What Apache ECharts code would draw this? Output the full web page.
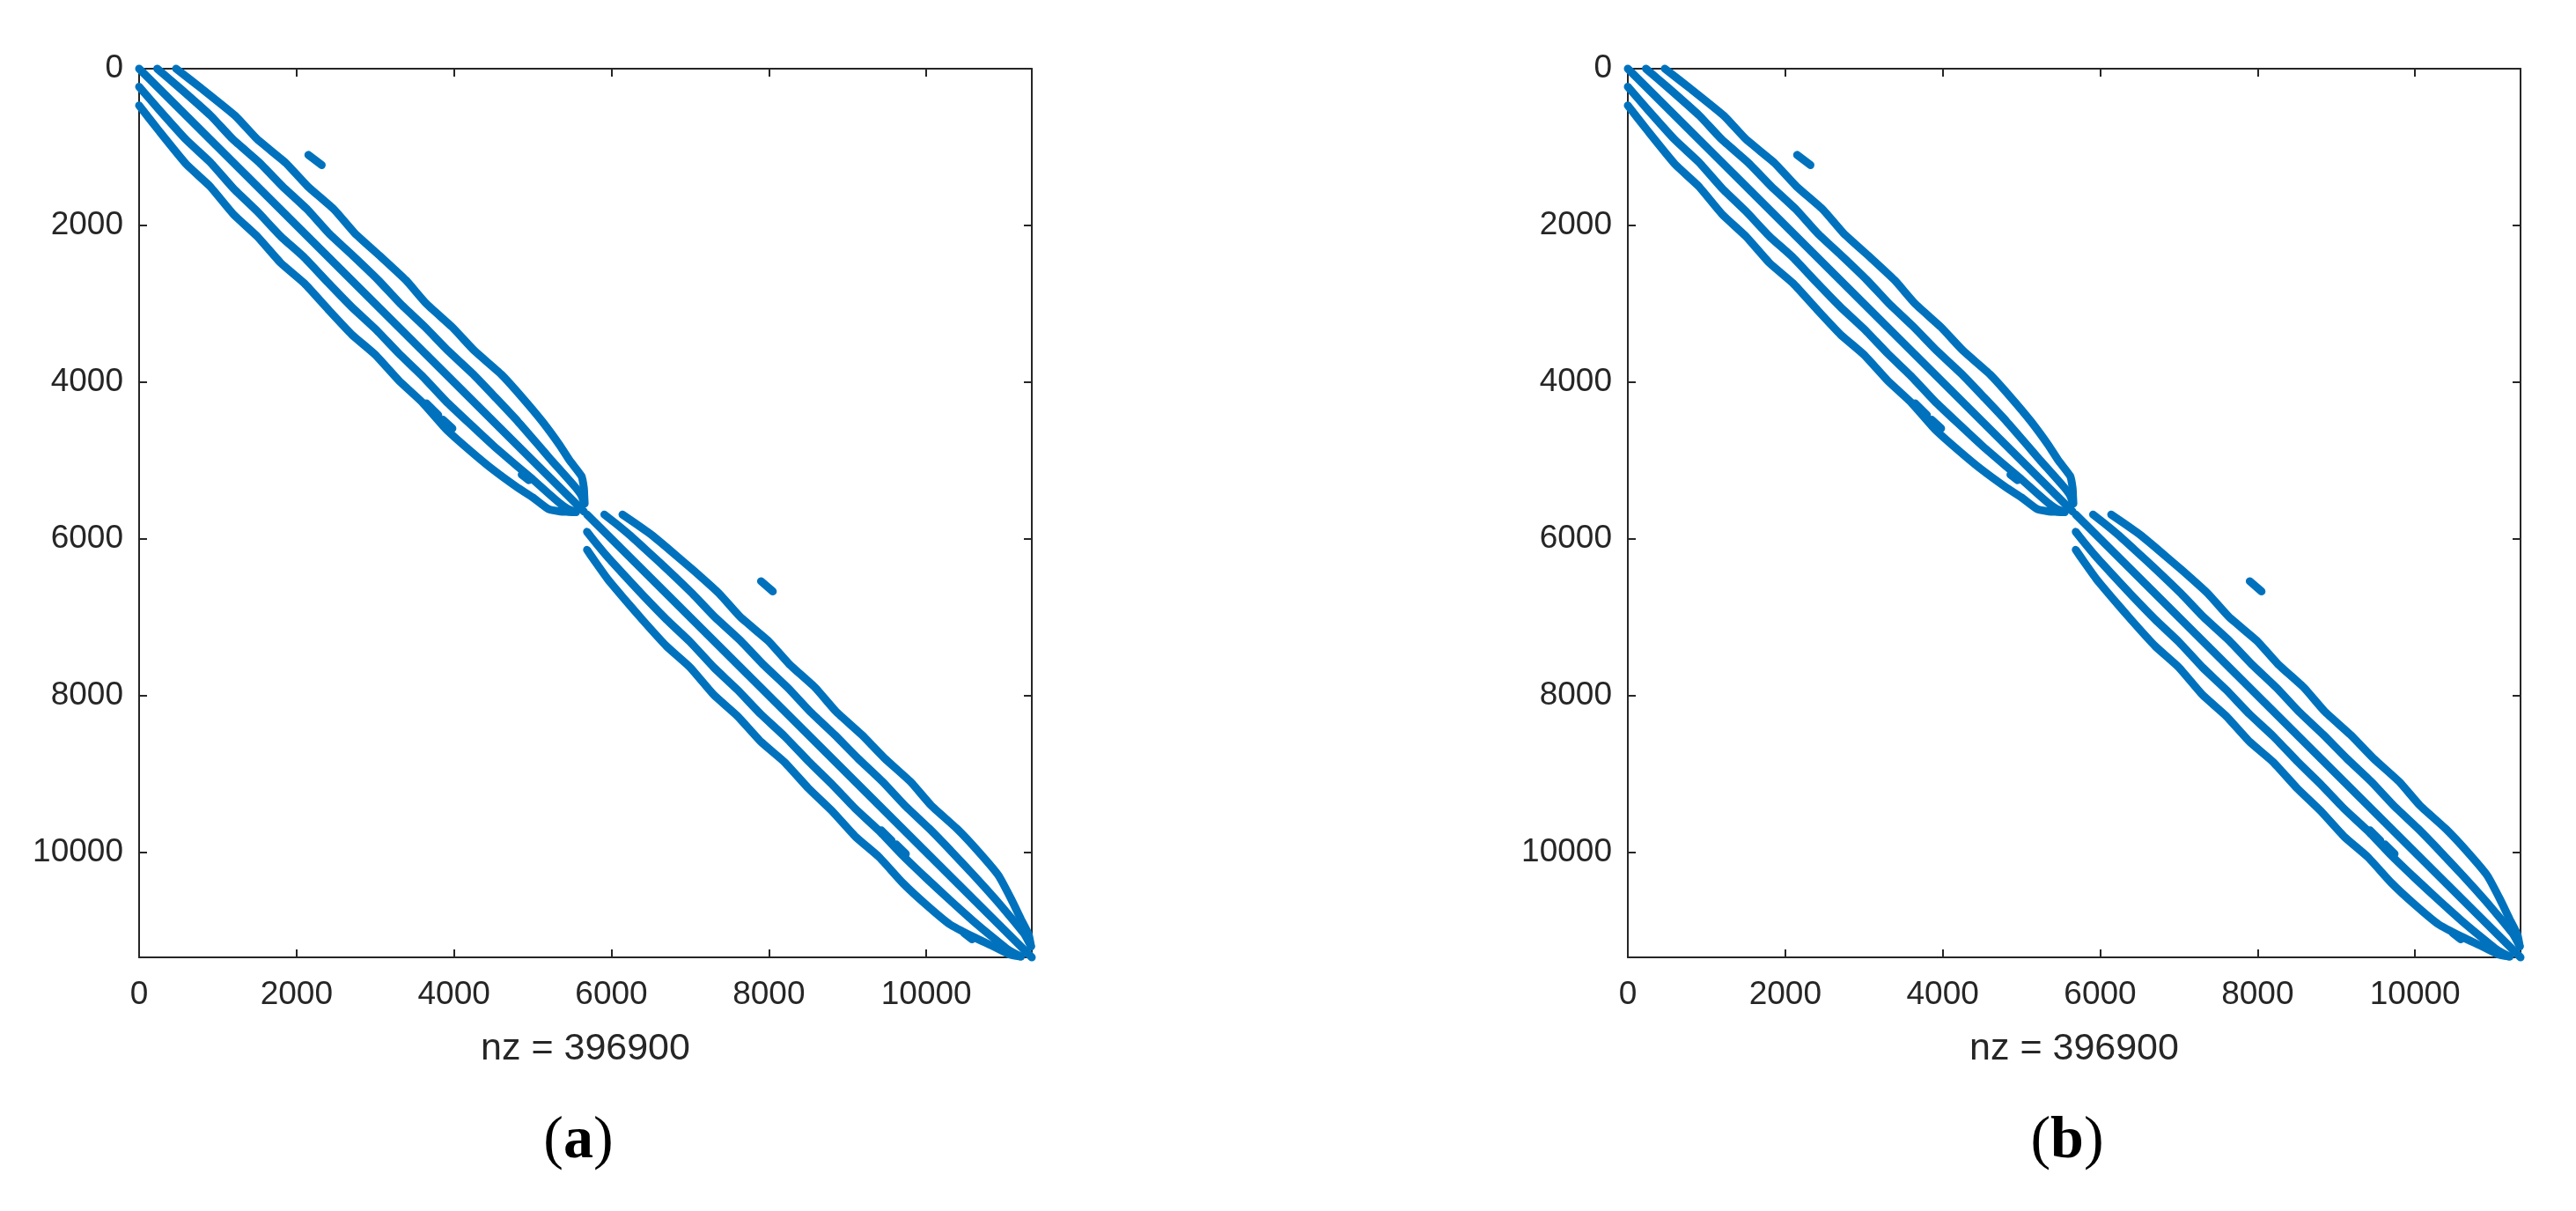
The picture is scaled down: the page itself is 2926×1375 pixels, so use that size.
<!DOCTYPE html>
<html><head><meta charset="utf-8">
<script src="https://cdn.jsdelivr.net/npm/echarts@6/dist/echarts.min.js"></script>
<style>html,body{margin:0;padding:0;background:#fff}#c{width:2926px;height:1375px}</style>
</head><body><div id="c"></div>
<script>
// matrix size and ticks
const N = 11340;
const blockEnds = [5670, 11340];
const xLabel = 'nz = 396900';
const panelLabels = ['a', 'b'];
// block 1 : diagonal position t and off-diagonal offsets of the two upper stripes
const block1T  = [0, 250, 600, 900, 1200, 1500, 1800, 2100, 2400, 2700, 3000, 3300, 3600, 3900, 4200, 4500, 4800, 5000, 5200, 5350, 5450, 5550];
const block1D1 = [230, 270, 310, 290, 330, 320, 340, 310, 330, 340, 320, 335, 325, 345, 330, 310, 270, 240, 220, 200, 170, 105];
const block1D2 = [470, 540, 620, 600, 660, 640, 680, 640, 670, 690, 650, 680, 660, 700, 670, 620, 540, 470, 420, 300, 205, 110];
// block 2
const block2T  = [5690, 5800, 5950, 6150, 6400, 6700, 7000, 7300, 7600, 7900, 8200, 8500, 8800, 9100, 9400, 9700, 10000, 10300, 10600, 10850, 11050, 11200];
const block2D1 = [220, 250, 280, 300, 320, 330, 315, 340, 325, 340, 320, 335, 330, 345, 325, 340, 330, 310, 280, 240, 200, 130];
const block2D2 = [450, 500, 560, 600, 640, 670, 640, 690, 660, 690, 650, 680, 670, 700, 660, 690, 670, 620, 480, 350, 250, 130];
// isolated short segments [x0, y0, x1, y1]
const dashes = [
  [2150, 1100, 2320, 1230],
  [3650, 4270, 3800, 4420],
  [3860, 4480, 3980, 4590],
  [4860, 5180, 4950, 5250],
  [7900, 6540, 8050, 6670],
  [9430, 9720, 9560, 9850],
  [9620, 9900, 9740, 10020],
  [10480, 11030, 10580, 11110]
];

const blue = '#0072BD';
const ink = '#262626';
const panels = [{left: 158}, {left: 1849}];
const W = 1014, H = 1009, TOP = 78;

function stripe(T, D, end, upper) {
  const pts = [];
  for (let i = 0; i < T.length; i++) {
    const a = T[i], b = T[i] + D[i];
    if (b > end) break;
    pts.push(upper ? [b, a] : [a, b]);
  }
  return pts;
}

const grids = [], xAxes = [], yAxes = [], series = [], graphics = [];
panels.forEach((p, gi) => {
  grids.push({left: p.left, top: TOP, width: W, height: H, show: false});
  const common = {min: 0, max: N, interval: 2000, gridIndex: gi, splitLine: {show: false},
    axisLine: {show: true, onZero: false, lineStyle: {color: ink, width: 2}},
    axisTick: {show: true, inside: true, length: 9, lineStyle: {color: ink, width: 2}}};
  const lab = {color: ink, fontSize: 37, fontFamily: 'Liberation Sans', showMaxLabel: false, formatter: v => String(v)};
  xAxes.push(Object.assign({type: 'value', position: 'bottom', axisLabel: Object.assign({margin: 24}, lab)}, common));
  xAxes.push(Object.assign({type: 'value', position: 'top', axisLabel: {show: false}}, common));
  yAxes.push(Object.assign({type: 'value', inverse: true, position: 'left', axisLabel: Object.assign({margin: 18}, lab)}, common));
  yAxes.push(Object.assign({type: 'value', inverse: true, position: 'right', axisLabel: {show: false}}, common));
  const xi = gi * 2, yi = gi * 2;
  const lines = [];
  [[block1T, block1D1, blockEnds[0]], [block1T, block1D2, blockEnds[0]],
   [block2T, block2D1, blockEnds[1]], [block2T, block2D2, blockEnds[1]]].forEach(([T, D, e]) => {
    lines.push(stripe(T, D, e, true));
    lines.push(stripe(T, D, e, false));
  });
  lines.push([[0, 0], [blockEnds[0] - 20, blockEnds[0] - 20]]);
  lines.push([[blockEnds[0] + 20, blockEnds[0] + 20], [N, N]]);
  dashes.forEach(d => lines.push([[d[0], d[1]], [d[2], d[3]]]));
  lines.forEach(data => series.push({type: 'line', xAxisIndex: xi, yAxisIndex: yi, data: data,
    showSymbol: false, smooth: 0.15, silent: true, animation: false, clip: false,
    lineStyle: {color: blue, width: 9, cap: 'round', join: 'round'}}));
  graphics.push({type: 'text', x: p.left + W / 2, y: 1170,
    style: {text: xLabel, fontSize: 43, fontFamily: 'Liberation Sans', fill: ink, align: 'center'}});
  graphics.push({type: 'text', x: p.left + W / 2 - 8, y: 1262,
    style: {text: '{p|(}{b|' + panelLabels[gi] + '}{p|)}', align: 'center',
      rich: {p: {fontSize: 68, fontFamily: 'Liberation Serif', fill: '#000'},
             b: {fontSize: 68, fontFamily: 'Liberation Serif', fontWeight: 'bold', fill: '#000'}}}});
});

const chart = echarts.init(document.getElementById('c'));
chart.setOption({animation: false, backgroundColor: '#fff', grid: grids, xAxis: xAxes, yAxis: yAxes, series: series, graphic: graphics});
</script></body></html>
